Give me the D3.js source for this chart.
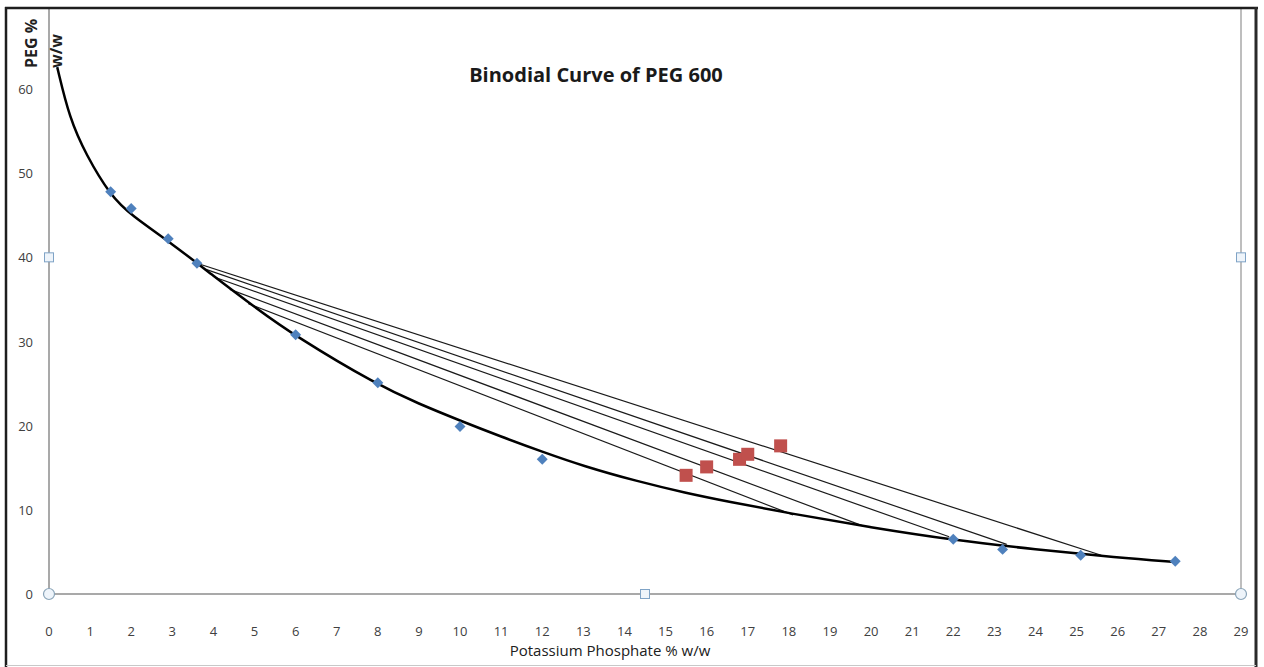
<!DOCTYPE html>
<html>
<head>
<meta charset="utf-8">
<script src="https://cdn.jsdelivr.net/npm/d3@7"></script>
<style>
    body { margin: 0; background: white; }
    #chart { width: 1264px; height: 667px; }
    .tick-label { font-family: "Open Sans", sans-serif; font-size: 13px; fill: #404040; }
</style>
</head>
<body>
<div id="chart"></div>
<script>

// binodal data points (blue diamonds)
const binodalX = [1.5, 2.0, 2.9, 3.6, 6.0, 8.0, 10.0, 12.0, 22.0, 23.2, 25.1, 27.4];
const binodalY = [47.8, 45.8, 42.2, 39.3, 30.8, 25.1, 19.9, 16.0, 6.5, 5.3, 4.6, 3.9];

// fitted curve (black line)
const curveX = [0.2, 0.5, 0.9, 1.5, 2.0, 3.0, 4.0, 5.0, 6.0, 8.0, 9.0, 10.0, 11.0, 12.0, 13.0, 14.3, 15.5, 16.5, 18.0, 20.0, 22.0, 24.0, 26.0, 27.4];
const curveY = [62.6, 56.5, 52.2, 47.3, 45.0, 41.6, 37.8, 34.1, 30.6, 24.8, 22.6, 20.6, 18.7, 16.9, 15.2, 13.4, 12.0, 11.0, 9.6, 7.9, 6.4, 5.3, 4.3, 3.8];

// tie lines: top phase and bottom phase ends
const tieTopX = [3.6, 3.8, 4.05, 4.4, 4.85];
const tieTopY = [39.3, 38.6, 37.6, 36.2, 34.5];
const tieBottomX = [25.6, 23.3, 21.9, 19.8, 18.1];
const tieBottomY = [4.6, 5.9, 6.8, 8.1, 9.4];

// feed compositions (red squares)
const feedX = [15.5, 16.0, 16.8, 17.0, 17.8];
const feedY = [14.1, 15.1, 16.0, 16.6, 17.6];

// axis ticks
const xTicks = d3.range(0, 30);
const yTicks = [0, 10, 20, 30, 40, 50, 60];

let svg = d3.select("#chart").append("svg")
    .attr("width", 1264)
    .attr("height", 667);

// scales
let x = d3.scaleLinear().domain([0, 29]).range([49, 1241]);
let y = d3.scaleLinear().domain([0, 60]).range([594, 89]);

// plot area outline (gray)
svg.append("line")
    .attr("x1", x(0)).attr("x2", x(0))
    .attr("y1", 8).attr("y2", y(0))
    .attr("stroke", "#8c8c8c").attr("stroke-width", 1.5);

svg.append("line")
    .attr("x1", x(29)).attr("x2", x(29))
    .attr("y1", 8).attr("y2", y(0))
    .attr("stroke", "#a8a8a8").attr("stroke-width", 1.5);

svg.append("line")
    .attr("x1", x(0)).attr("x2", x(29))
    .attr("y1", y(0)).attr("y2", y(0))
    .attr("stroke", "#8c8c8c").attr("stroke-width", 1.5);

// tick labels
svg.append("g").selectAll("text")
    .data(xTicks)
    .enter().append("text")
    .attr("class", "tick-label")
    .attr("x", d => x(d))
    .attr("y", 636)
    .attr("text-anchor", "middle")
    .text(d => d);

svg.append("g").selectAll("text")
    .data(yTicks)
    .enter().append("text")
    .attr("class", "tick-label")
    .attr("x", 33)
    .attr("y", d => y(d) + 5)
    .attr("text-anchor", "end")
    .text(d => d);

// axis titles
svg.append("text")
    .attr("x", 610)
    .attr("y", 656)
    .attr("text-anchor", "middle")
    .style("font-family", "Open Sans, sans-serif")
    .style("font-size", "15px")
    .style("fill", "#202020")
    .text("Potassium Phosphate % w/w");

let yTitle = svg.append("g")
    .attr("transform", "translate(37, 68) rotate(-90)");
yTitle.append("text")
    .attr("x", 0).attr("y", 0)
    .style("font-family", "Open Sans, sans-serif")
    .style("font-size", "16px")
    .style("font-weight", "bold")
    .style("fill", "#202020")
    .text("PEG % ");
yTitle.append("text")
    .attr("x", 0).attr("y", 25)
    .style("font-family", "Open Sans, sans-serif")
    .style("font-size", "16px")
    .style("font-weight", "bold")
    .style("fill", "#202020")
    .text("w/w");

// chart title
svg.append("text")
    .attr("x", 596)
    .attr("y", 82)
    .attr("text-anchor", "middle")
    .style("font-family", "Open Sans, sans-serif")
    .style("font-size", "20px")
    .style("font-weight", "bold")
    .style("fill", "#1a1a1a")
    .text("Binodial Curve of PEG 600");

// tie lines
svg.append("g").selectAll("line")
    .data(tieTopX.map((d, i) => i))
    .enter().append("line")
    .attr("x1", i => x(tieTopX[i]))
    .attr("y1", i => y(tieTopY[i]))
    .attr("x2", i => x(tieBottomX[i]))
    .attr("y2", i => y(tieBottomY[i]))
    .attr("stroke", "#1a1a1a")
    .attr("stroke-width", 1.2);

// binodal curve (smoothed)
let curvePts = curveX.map((d, i) => [d, curveY[i]]);
svg.append("path")
    .datum(curvePts)
    .attr("d", d3.line().x(d => x(d[0])).y(d => y(d[1])).curve(d3.curveBasis))
    .attr("fill", "none")
    .attr("stroke", "black")
    .attr("stroke-width", 2.5);

// diamonds
let diamond = d3.symbol().type(d3.symbolSquare).size(60);
svg.append("g").selectAll("path")
    .data(binodalX.map((d, i) => [d, binodalY[i]]))
    .enter().append("path")
    .attr("d", diamond)
    .attr("transform", d => `translate(${x(d[0])}, ${y(d[1])}) rotate(45)`)
    .attr("fill", "#4f81bd");

// feed squares
svg.append("g").selectAll("rect")
    .data(feedX.map((d, i) => [d, feedY[i]]))
    .enter().append("rect")
    .attr("x", d => x(d[0]) - 6.5)
    .attr("y", d => y(d[1]) - 6.5)
    .attr("width", 13)
    .attr("height", 13)
    .attr("fill", "#c0504d");

// selection handles of the plot area
let handleSquares = [[0, 40], [29, 40], [14.5, 0]];
svg.append("g").selectAll("rect")
    .data(handleSquares)
    .enter().append("rect")
    .attr("x", d => x(d[0]) - 4.5)
    .attr("y", d => y(d[1]) - 4.5)
    .attr("width", 9)
    .attr("height", 9)
    .attr("fill", "#eef4fa")
    .attr("stroke", "#7fa3c6")
    .attr("stroke-width", 1);

let handleCircles = [[0, 0], [29, 0]];
svg.append("g").selectAll("circle")
    .data(handleCircles)
    .enter().append("circle")
    .attr("cx", d => x(d[0]))
    .attr("cy", d => y(d[1]))
    .attr("r", 5.5)
    .attr("fill", "#eef4fa")
    .attr("stroke", "#8aa4b8")
    .attr("stroke-width", 1.2);

// outer frame
svg.append("line").attr("x1", 6).attr("x2", 6).attr("y1", 7).attr("y2", 667)
    .attr("stroke", "#1e1e1e").attr("stroke-width", 2.5);
svg.append("line").attr("x1", 5).attr("x2", 1258).attr("y1", 8).attr("y2", 8)
    .attr("stroke", "#1e1e1e").attr("stroke-width", 2.5);
svg.append("line").attr("x1", 1256).attr("x2", 1256).attr("y1", 7).attr("y2", 667)
    .attr("stroke", "#2a2a2a").attr("stroke-width", 3);
svg.append("line").attr("x1", 6).attr("x2", 1256).attr("y1", 665.5).attr("y2", 665.5)
    .attr("stroke", "#c8c8c8").attr("stroke-width", 1);

</script>
</body>
</html>
